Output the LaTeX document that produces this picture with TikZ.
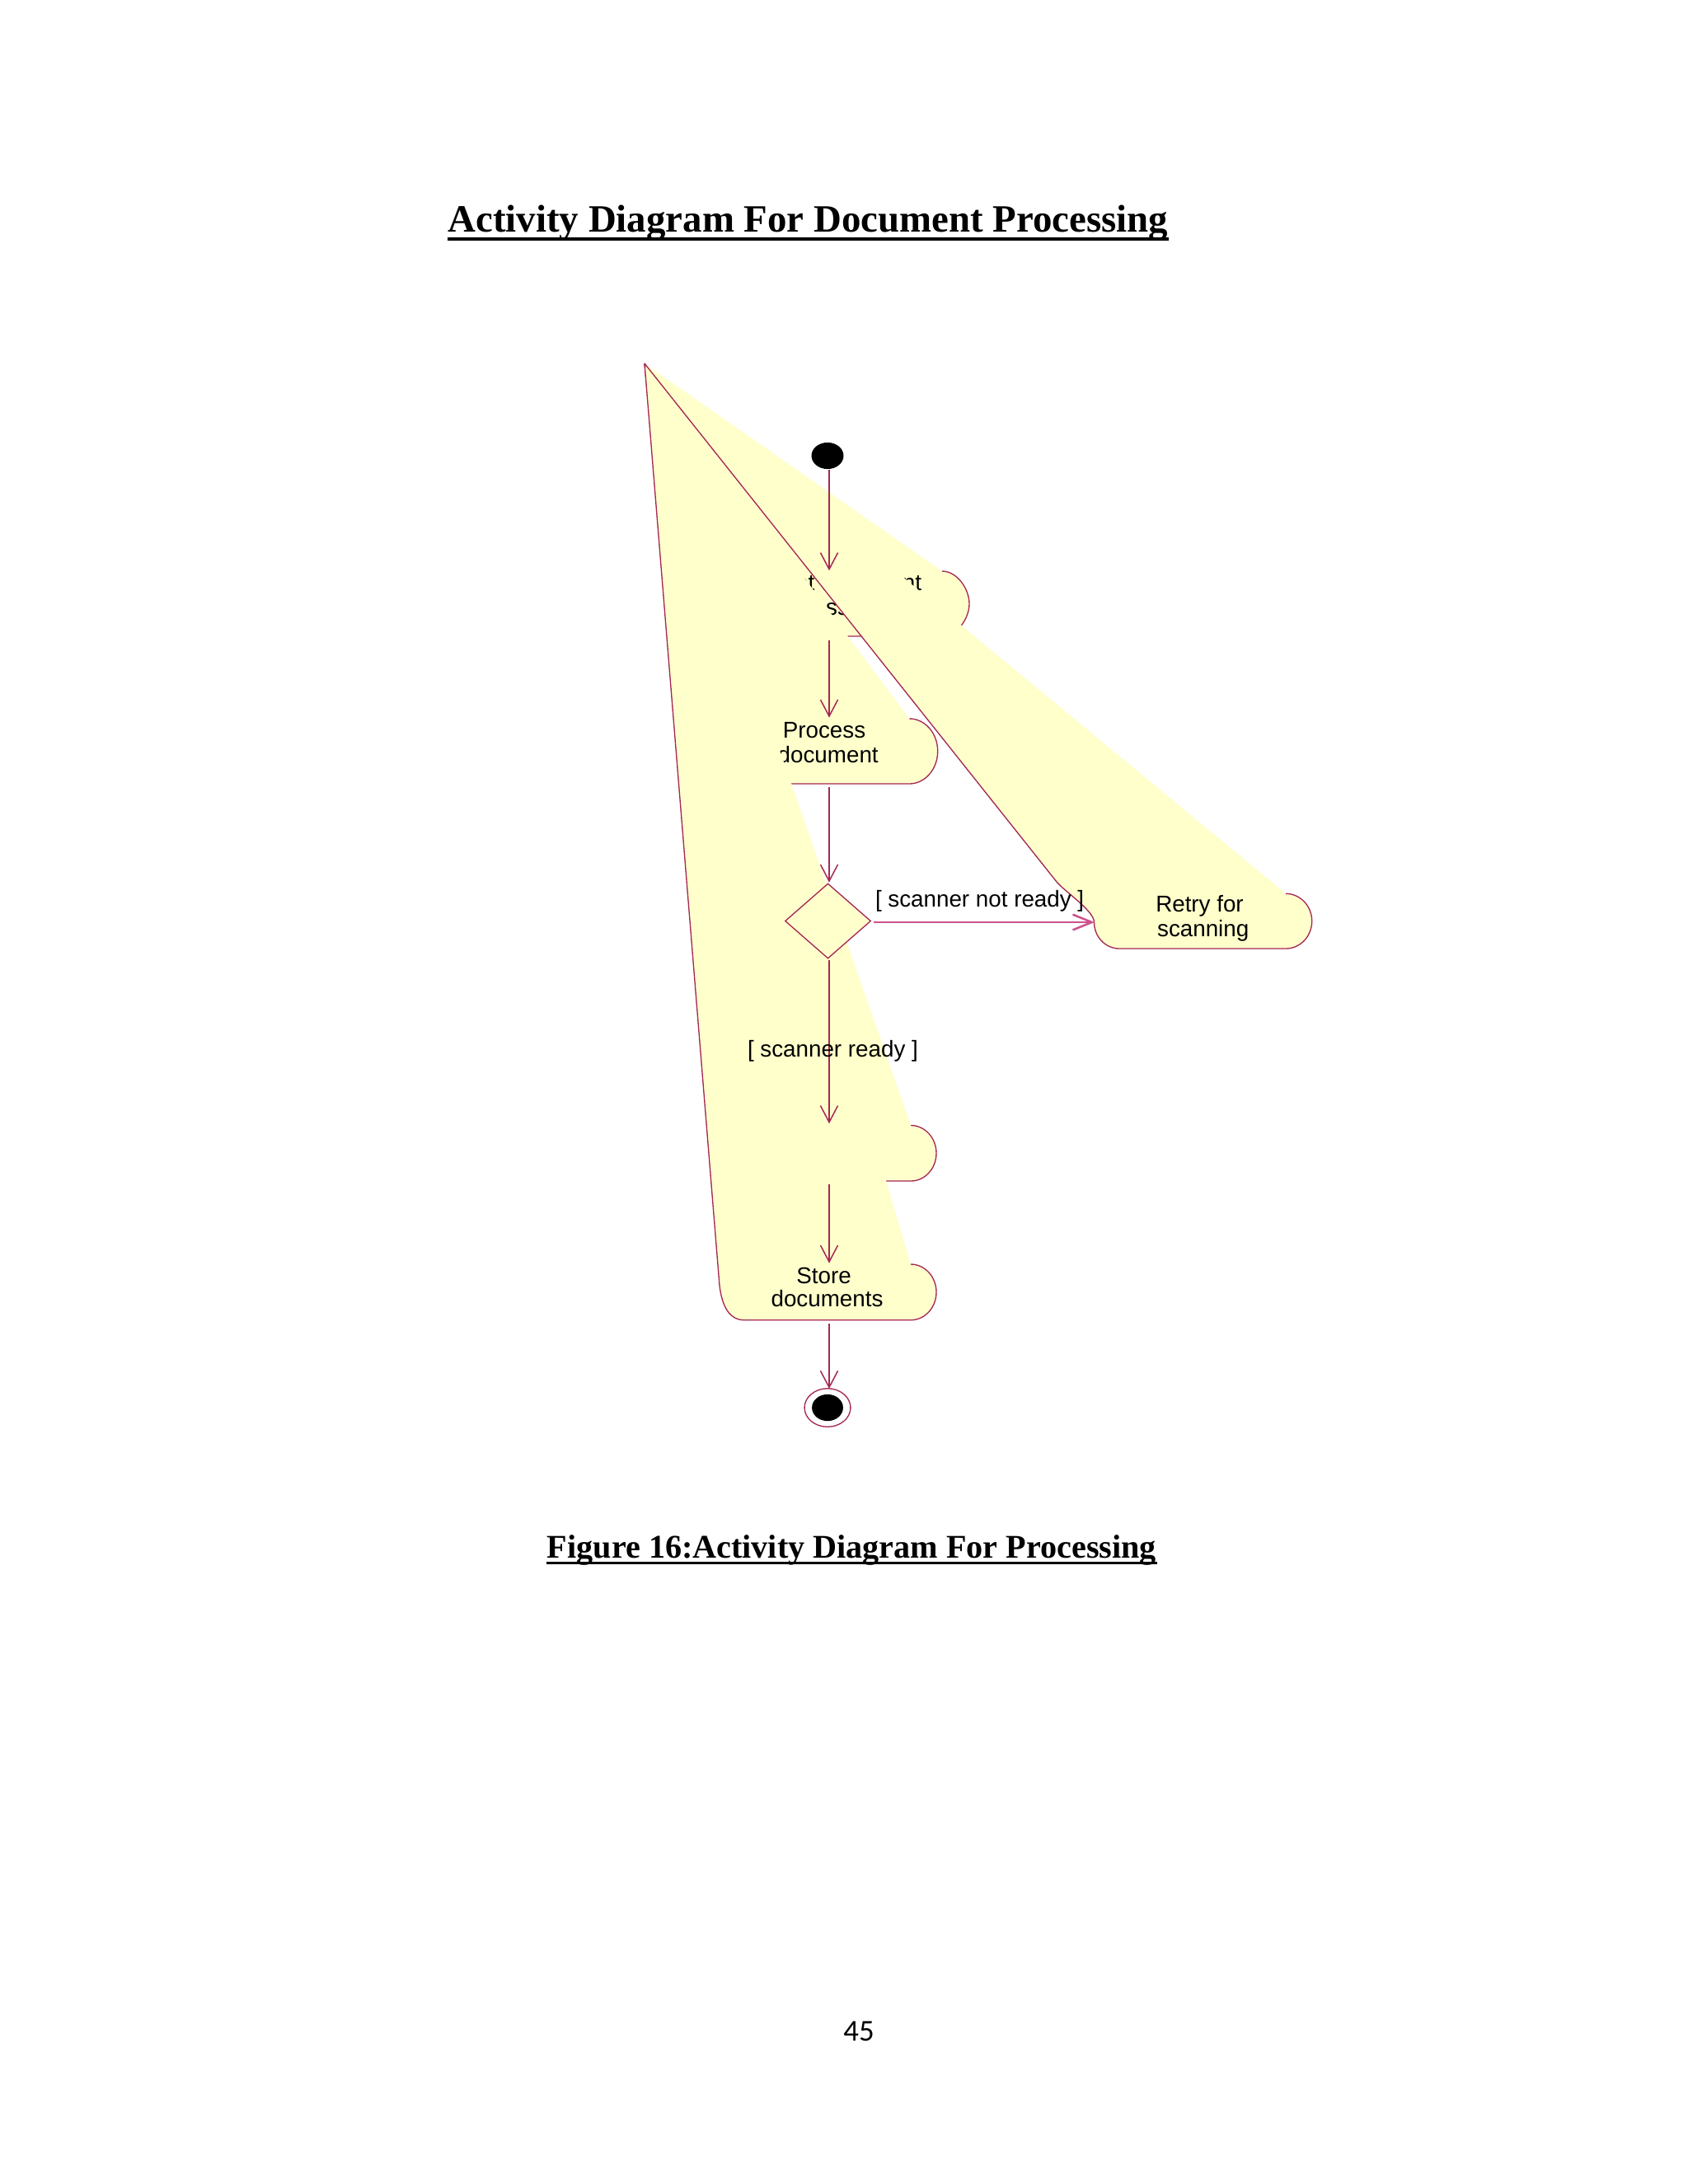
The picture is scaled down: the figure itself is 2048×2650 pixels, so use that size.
\documentclass[tikz,border=0pt]{standalone}
\usepackage{fontspec}
\setmainfont{Liberation Serif}
\newfontfamily\rosefont{Liberation Sans}
\newfontfamily\pagefont{Carlito}
\usetikzlibrary{arrows.meta,shapes.geometric}
\definecolor{roseyellow}{RGB}{255,255,204}
\definecolor{roseedge}{RGB}{165,40,85}
\definecolor{rosepink}{RGB}{205,80,140}
\begin{document}
\begin{tikzpicture}[x=0.29883pt,y=-0.29883pt,
  lbl/.style={font=\rosefont\fontsize{8.3}{10}\selectfont,inner sep=0pt,outer sep=0pt},
  edge/.style={draw=roseedge,line width=0.4pt,line join=round},
  yfill/.style={fill=roseyellow},
  trans/.style={draw=roseedge,line width=0.45pt,-{Straight Barb[length=6pt,width=6.3pt]}},
  guard/.style={draw=rosepink,line width=0.75pt,-{Straight Barb[length=6.9pt,width=5.6pt]}}]
\fill[white] (0,0) rectangle (2048,2650);
\useasboundingbox (0,0) rectangle (2048,2650);
\coordinate (A) at (782,441);

% state 1 (distorted)
\fill[yfill] (A) -- (1143,693) .. controls (1161.2,693) and (1176,714.7) .. (1176,732.5) .. controls (1176,750.3) and (1161.2,772) .. (1143,772) -- (917,772) .. controls (898.8,772) and (884,750.3) .. (884,732.5) -- cycle;
\draw[edge] (1143,693) .. controls (1161.2,693) and (1176,714.7) .. (1176,732.5) .. controls (1176,750.3) and (1161.2,772) .. (1143,772) -- (917,772) .. controls (898.8,772) and (884,750.3) .. (884,732.5) -- (A);
\node[lbl,anchor=base east] (g1) at (1118,716) {Get document};
\node[lbl,anchor=base east] (g2) at (1030,746) {process};

% Process document
\fill[yfill] (A) -- (1103.3,872) .. controls (1122.3,872) and (1137.7,889.7) .. (1137.7,911.5) .. controls (1137.7,933.3) and (1122.3,951) .. (1103.3,951) -- (904.7,951) .. controls (885.7,951) and (870.3,933.3) .. (870.3,911.5) -- cycle;
\draw[edge] (1103.3,872) .. controls (1122.3,872) and (1137.7,889.7) .. (1137.7,911.5) .. controls (1137.7,933.3) and (1122.3,951) .. (1103.3,951) -- (904.7,951) .. controls (885.7,951) and (870.3,933.3) .. (870.3,911.5) -- (A);
\node[lbl,anchor=base] (p1) at (1000,895) {Process};
\node[lbl,anchor=base] (p2) at (1004.7,925) {document};

% state 3 (hidden text)
\fill[yfill] (A) -- (1105,1365.5) .. controls (1122.1,1365.5) and (1136,1380.6) .. (1136,1399.25) .. controls (1136,1417.9) and (1122.1,1433) .. (1105,1433) -- (903,1433) .. controls (885.9,1433) and (872,1417.9) .. (872,1399.25) -- cycle;
\draw[edge] (1105,1365.5) .. controls (1122.1,1365.5) and (1136,1380.6) .. (1136,1399.25) .. controls (1136,1417.9) and (1122.1,1433) .. (1105,1433) -- (903,1433) .. controls (885.9,1433) and (872,1417.9) .. (872,1399.25) -- (A);

% Store documents
\fill[yfill] (A) -- (1105,1534) .. controls (1122.1,1534) and (1136,1549.15) .. (1136,1567.85) .. controls (1136,1586.55) and (1122.1,1601.7) .. (1105,1601.7) -- (903,1601.7) .. controls (885,1601.7) and (876,1585) .. (873,1560) -- cycle;
\draw[edge] (1105,1534) .. controls (1122.1,1534) and (1136,1549.15) .. (1136,1567.85) .. controls (1136,1586.55) and (1122.1,1601.7) .. (1105,1601.7) -- (903,1601.7) .. controls (885,1601.7) and (876,1585) .. (873,1560) -- (A);
\node[lbl,anchor=base] (s1) at (999.5,1557.3) {Store};
\node[lbl,anchor=base] (s2) at (1003.5,1585) {documents};

% Retry for scanning
\fill[yfill] (A) -- (1560,1084.3) .. controls (1577.5,1084.3) and (1591.7,1099.25) .. (1591.7,1117.65) .. controls (1591.7,1136.05) and (1577.5,1151) .. (1560,1151) -- (1358,1151) .. controls (1341.2,1151) and (1327.5,1136.7) .. (1327.5,1119) .. controls (1327.5,1105) and (1290.9,1081.2) .. (1281.6,1069.5) -- cycle;
\draw[edge] (1560,1084.3) .. controls (1577.5,1084.3) and (1591.7,1099.25) .. (1591.7,1117.65) .. controls (1591.7,1136.05) and (1577.5,1151) .. (1560,1151) -- (1358,1151) .. controls (1341.2,1151) and (1327.5,1136.7) .. (1327.5,1119) .. controls (1327.5,1105) and (1290.9,1081.2) .. (1281.6,1069.5) -- (A);
\node[lbl,anchor=base] (r1) at (1455.5,1106.7) {Retry for};
\node[lbl,anchor=base] (r2) at (1459.7,1136.7) {scanning};

% decision
\node[diamond,draw=roseedge,fill=roseyellow,line width=0.4pt,inner sep=0pt,minimum width=31.1pt,minimum height=27.2pt] (dec) at (1004.5,1117.5) {};

% initial and final states
\node[ellipse,fill=black,inner sep=0pt,minimum width=11.65pt,minimum height=9.6pt] (start) at (1004,553) {};
\node[ellipse,draw=roseedge,fill=white,line width=0.4pt,inner sep=0pt,minimum width=16.7pt,minimum height=13.9pt] (endo) at (1004,1708) {};
\node[ellipse,fill=black,inner sep=0pt,minimum width=11.3pt,minimum height=9.65pt] (endi) at (1004,1708) {};

% connector end points
\coordinate (c0) at (1006,570);
\coordinate (c1t) at (1006,692.3);
\coordinate (c1b) at (1006,776.7);
\coordinate (c2t) at (1006,870.7);
\coordinate (c2b) at (1006,955);
\coordinate (cdt) at (1006,1070.7);
\coordinate (cdb) at (1006,1165);
\coordinate (c3t) at (1006,1363.3);
\coordinate (c3b) at (1006,1436.7);
\coordinate (c4t) at (1006,1532.7);
\coordinate (c4b) at (1006,1606);
\coordinate (cft) at (1006,1685);
\coordinate (cdr) at (1060,1119);
\coordinate (crl) at (1328,1119);

\draw[trans] (c0) -- (c1t);
\draw[trans] (c1b) -- (c2t);
\draw[trans] (c2b) -- (cdt);
\draw[trans] (cdb) -- (c3t);
\draw[trans] (c3b) -- (c4t);
\draw[trans] (c4b) -- (cft);
\draw[guard] (cdr) -- (crl);

\node[lbl,anchor=base west] (gr) at (907,1282) {[ scanner ready ]};
\node[lbl,anchor=base west] (gnr) at (1062,1100) {[ scanner not ready ]};

% title, caption, page number
\node[font=\bfseries\fontsize{14}{16}\selectfont,anchor=base west,inner sep=0pt] (title) at (543,281.7) {Activity Diagram For Document Processing};
\draw[line width=1.2pt] ([yshift=-2.6pt]title.base west) -- ([yshift=-2.6pt]title.base east);
\node[font=\bfseries\fontsize{12}{14}\selectfont,anchor=base west,inner sep=0pt] (cap) at (663.3,1890) {Figure 16:Activity Diagram For Processing};
\draw[line width=1pt] ([yshift=-2pt]cap.base west) -- ([yshift=-2pt]cap.base east);
\node[font=\pagefont\fontsize{11}{13}\selectfont,anchor=base,inner sep=0pt] (pg) at (1042,2476) {45};
\end{tikzpicture}
\end{document}
